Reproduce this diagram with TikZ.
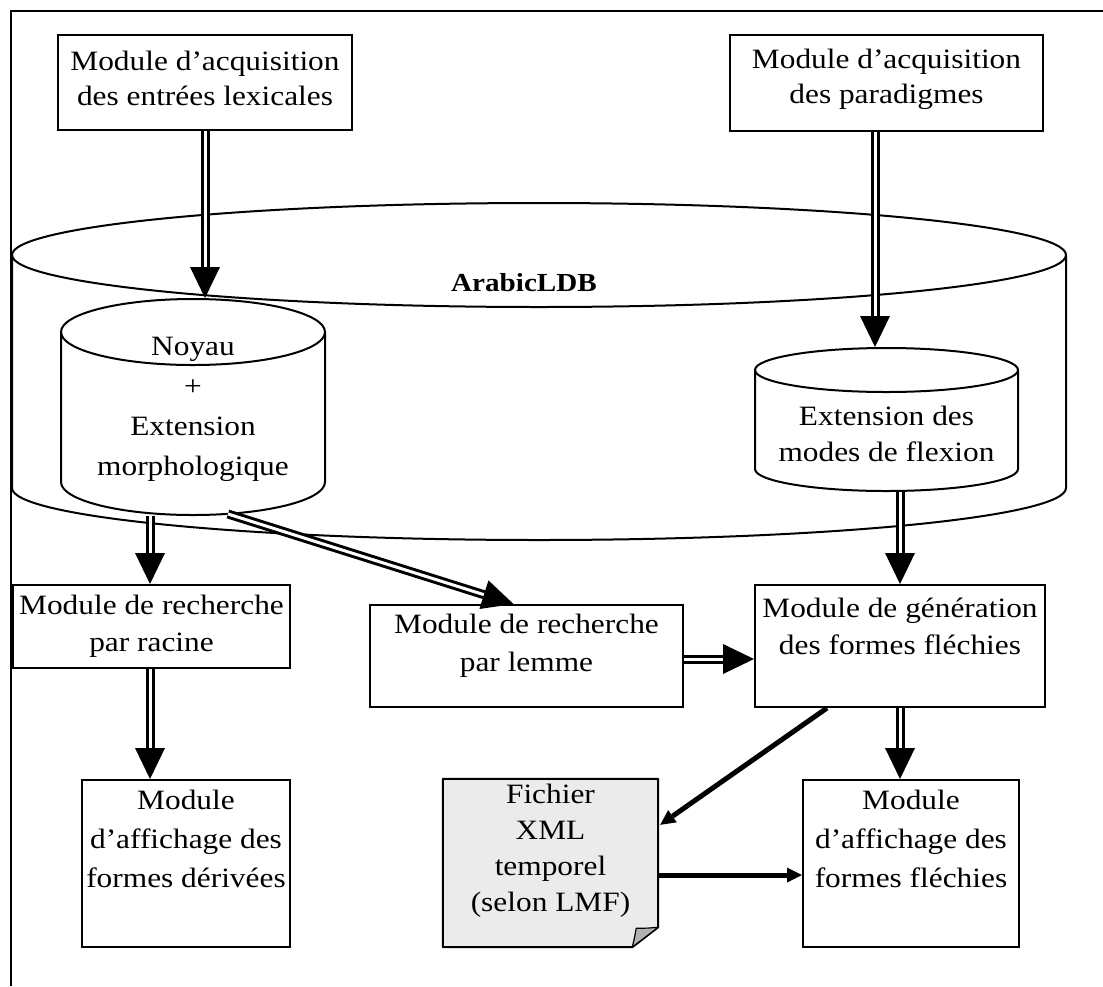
\documentclass[tikz,border=0pt]{standalone}
\usepackage{fontspec}
\setmainfont[FakeStretch=1.12]{Liberation Serif}
\usetikzlibrary{arrows.meta,calc}
\begin{document}
\begin{tikzpicture}[x=1pt,y=-1pt,
  frame/.style={line width=2pt},
  cyl/.style={line width=2pt},
  box/.style={draw, line width=2pt, inner sep=0pt},
  txt/.style={align=center, inner sep=0pt, font=\fontsize{28}{#1}\selectfont},
  txt/.default=36,
  dbl/.style={double, double distance=3pt, line width=3pt,
    -{Triangle[width=30pt,length=31pt,line width=0pt]}},
  sgl/.style={line width=5pt, -{Triangle[width=15pt,length=15pt,line width=0pt]}},
  page/.style={draw, line width=2pt, fill=black!8, line join=round}]
\useasboundingbox (0,0) rectangle (1103,986);

% outer frame
\draw[frame] (11,986) -- (11,11) -- (1103,11);

% acquisition modules
\node[box, minimum width=294pt, minimum height=95pt] (lex) at (205,82.5) {};
\node[txt=35] (lexT) at (205,78) {Module d’acquisition\\des entrées lexicales};
\node[box, minimum width=313pt, minimum height=96pt] (par) at (886.5,83) {};
\node[txt=35] (parT) at (886.5,79) {Module d’acquisition\\des paradigmes};

% the ArabicLDB database
\draw[cyl] (12,255) -- (12,488) arc[start angle=180,end angle=360,x radius=527pt,y radius=52pt] -- (1066,255);
\draw[cyl] (539,255) ellipse[x radius=527pt,y radius=52pt];
\node[inner sep=0pt, font=\fontsize{26}{30}\selectfont\bfseries] (db) at (524,283) {ArabicLDB};

% core + morphological extension
\draw[cyl] (61,332) -- (61,482) arc[start angle=180,end angle=360,x radius=132pt,y radius=33pt] -- (325,332);
\draw[cyl] (193,332) ellipse[x radius=132pt,y radius=33pt];
\node[txt=40] (noyT) at (193,409) {Noyau\\+\\Extension\\morphologique};

% inflection modes extension
\draw[cyl] (755,370) -- (755,469) arc[start angle=180,end angle=360,x radius=131.5pt,y radius=22pt] -- (1018,370);
\draw[cyl] (886.5,370) ellipse[x radius=131.5pt,y radius=22pt];
\node[txt=36] (extT) at (886.5,434) {Extension des\\modes de flexion};

\coordinate (noyTop) at (205,298);
\coordinate (noyOut) at (150,516);
\coordinate (noyDiag) at (228,514);
\coordinate (extTop) at (875,347);
\coordinate (extBot) at (900,492);

% search and generation modules
\node[box, minimum width=277pt, minimum height=83pt] (rac) at (151.5,626.5) {};
\node[txt=37] (racT) at (151.5,626.5) {Module de recherche\\par racine};
\node[box, minimum width=313pt, minimum height=102pt] (lem) at (526.5,656) {};
\node[txt=38] (lemT) at (526.5,646) {Module de recherche\\par lemme};
\node[box, minimum width=290pt, minimum height=122pt] (gen) at (900,646) {};
\node[txt=37] (genT) at (900,626.5) {Module de génération\\des formes fléchies};

% display modules
\node[box, minimum width=208pt, minimum height=167pt] (der) at (186,863.5) {};
\node[txt=39] (derT) at (186,839) {Module\\d’affichage des\\formes dérivées};
\node[box, minimum width=216pt, minimum height=167pt] (fle) at (911,863.5) {};
\node[txt=39] (fleT) at (911,839) {Module\\d’affichage des\\formes fléchies};

% temporary XML file (page with folded corner)
\node[minimum width=215pt, minimum height=168pt, inner sep=0pt] (fic) at (550.5,863) {};
\draw[page] (fic.north west) -- (fic.north east) -- ($(fic.south east)+(0,-20)$)
  -- ($(fic.south east)+(-26,0)$) -- (fic.south west) -- cycle;
\draw[line width=1.2pt, fill=black!30, line join=round] ($(fic.south east)+(-26,0)$)
  .. controls ($(fic.south east)+(-24,-8)$) .. ($(fic.south east)+(-22,-19)$)
  .. controls ($(fic.south east)+(-10,-19)$) .. ($(fic.south east)+(0,-20)$) -- cycle;
\node[txt=36] (ficT) at (550.5,851) {Fichier\\XML\\temporel\\(selon LMF)};

% connectors
\draw[dbl] (lex.south) -- (noyTop);
\draw[dbl] (par.south -| extTop) -- (extTop);
\draw[dbl] (noyOut) -- (rac.north -| noyOut);
\draw[dbl] (noyDiag) -- ($(lem.north)+(-13,0)$);
\draw[dbl] (extBot) -- (gen.north);
\draw[dbl] ($(lem.east)+(0,3)$) -- ($(gen.west)+(0,13)$);
\draw[dbl] (rac.south -| noyOut) -- (der.north -| noyOut);
\draw[dbl] (gen.south) -- (fle.north -| gen.south);
\draw[sgl] ($(gen.south)+(-73,0)$) -- ($(fic.north east)+(2,46)$);
\draw[sgl] ($(fic.east)+(0,12)$) -- ($(fle.west)+(0,11.5)$);
\end{tikzpicture}
\end{document}
